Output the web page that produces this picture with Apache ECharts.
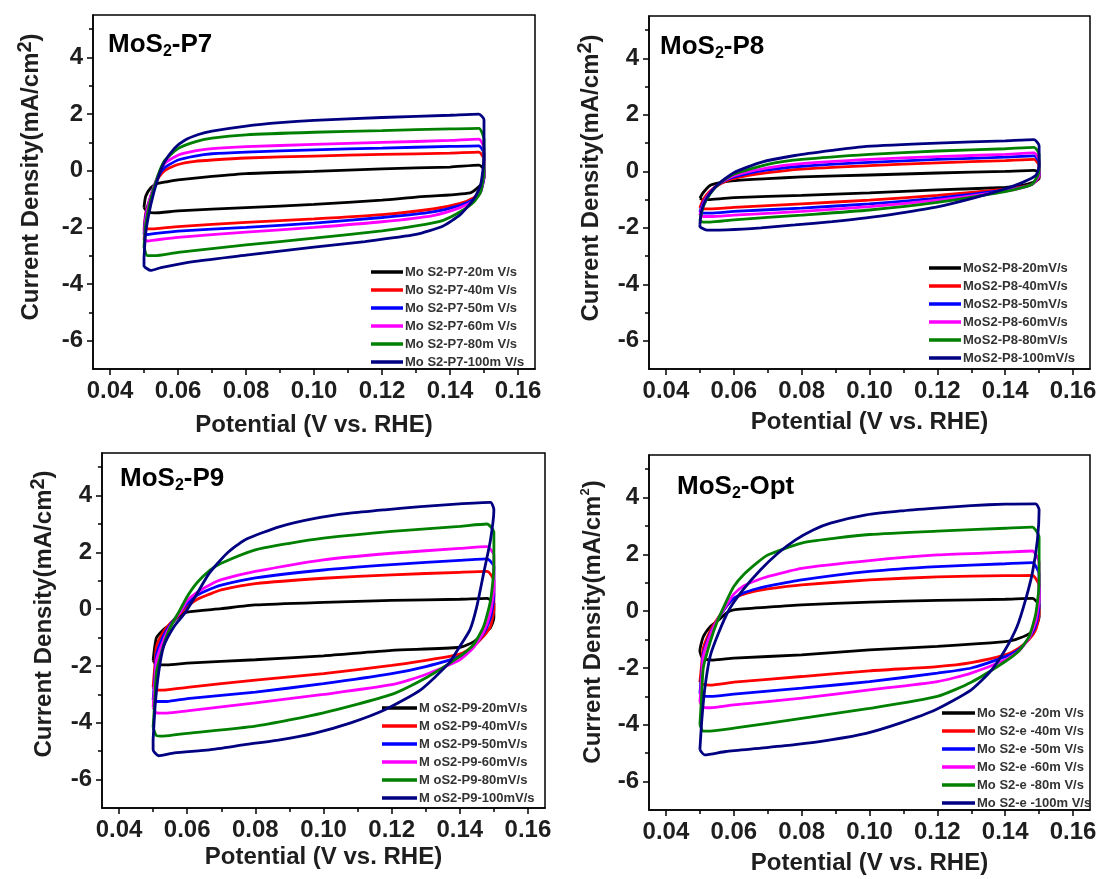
<!DOCTYPE html>
<html>
<head>
<meta charset="utf-8">
<script src="https://cdn.jsdelivr.net/npm/echarts@6/dist/echarts.min.js"></script>
<style>
  html, body { margin: 0; padding: 0; background: #ffffff; }
  #chart { width: 1101px; height: 879px; }
</style>
</head>
<body>
<div id="chart"></div>
<script>
// Cyclic voltammograms of four MoS2 electrodes at six scan rates.
// Each loop is [potential (V vs. RHE), current density (mA/cm2)].

const scanRates = ['20', '40', '50', '60', '80', '100'];
const xTickValues = [0.04, 0.06, 0.08, 0.10, 0.12, 0.14, 0.16];
const xMinorValues = [0.05, 0.07, 0.09, 0.11, 0.13, 0.15];
const yTickValues = [-6, -4, -2, 0, 2, 4];
const yMinorValues = [-5, -3, -1, 1, 3, 5];

// ---- MoS2-P7 ----
const p7_20 = [[0.050,-1.30],[0.0505,-0.90],[0.052,-0.60],[0.054,-0.45],[0.057,-0.38],[0.060,-0.32],[0.070,-0.20],[0.080,-0.10],[0.100,-0.02],[0.120,0.07],[0.140,0.13],[0.1485,0.20],[0.150,0.05],[0.150,-0.25],[0.149,-0.50],[0.146,-0.78],[0.130,-0.93],[0.120,-1.04],[0.100,-1.19],[0.080,-1.30],[0.060,-1.42],[0.053,-1.49],[0.051,-1.45],[0.050,-1.30]];
const p7_40 = [[0.050,-2.10],[0.0505,-1.50],[0.052,-0.90],[0.054,-0.30],[0.056,0.00],[0.060,0.22],[0.065,0.33],[0.070,0.38],[0.080,0.45],[0.100,0.52],[0.120,0.58],[0.140,0.62],[0.1485,0.66],[0.150,0.40],[0.150,-0.20],[0.149,-0.70],[0.147,-0.95],[0.143,-1.15],[0.135,-1.35],[0.120,-1.55],[0.100,-1.70],[0.080,-1.82],[0.060,-1.97],[0.053,-2.05],[0.051,-2.05],[0.050,-2.10]];
const p7_50 = [[0.050,-2.25],[0.0505,-1.60],[0.052,-0.90],[0.054,-0.25],[0.056,0.10],[0.060,0.38],[0.065,0.52],[0.070,0.60],[0.080,0.66],[0.100,0.74],[0.120,0.80],[0.140,0.86],[0.1485,0.88],[0.150,0.60],[0.150,-0.20],[0.149,-0.75],[0.147,-1.00],[0.143,-1.22],[0.135,-1.45],[0.120,-1.65],[0.100,-1.85],[0.080,-2.00],[0.060,-2.13],[0.053,-2.22],[0.051,-2.25],[0.050,-2.25]];
const p7_60 = [[0.050,-2.45],[0.0505,-1.70],[0.052,-0.90],[0.054,-0.20],[0.056,0.25],[0.060,0.55],[0.065,0.70],[0.070,0.78],[0.080,0.85],[0.100,0.93],[0.120,1.00],[0.140,1.07],[0.1485,1.12],[0.150,0.80],[0.150,-0.10],[0.149,-0.75],[0.147,-1.05],[0.143,-1.30],[0.135,-1.58],[0.120,-1.80],[0.100,-2.00],[0.080,-2.17],[0.060,-2.35],[0.053,-2.45],[0.051,-2.48],[0.050,-2.45]];
const p7_80 = [[0.050,-2.70],[0.0505,-1.90],[0.052,-1.00],[0.054,-0.20],[0.056,0.35],[0.060,0.78],[0.065,1.02],[0.070,1.15],[0.080,1.27],[0.100,1.36],[0.120,1.42],[0.140,1.48],[0.1485,1.50],[0.150,1.10],[0.150,0.00],[0.149,-0.75],[0.147,-1.10],[0.143,-1.45],[0.138,-1.75],[0.130,-1.95],[0.120,-2.12],[0.100,-2.38],[0.080,-2.62],[0.060,-2.88],[0.053,-3.00],[0.051,-3.00],[0.050,-2.70]];
const p7_100 = [[0.050,-3.10],[0.0505,-2.20],[0.052,-1.20],[0.054,-0.30],[0.056,0.30],[0.059,0.80],[0.062,1.08],[0.066,1.28],[0.070,1.40],[0.080,1.58],[0.090,1.70],[0.100,1.78],[0.120,1.88],[0.140,1.96],[0.1485,2.00],[0.150,1.80],[0.150,0.50],[0.149,-0.50],[0.147,-1.00],[0.143,-1.55],[0.138,-1.95],[0.130,-2.25],[0.115,-2.50],[0.100,-2.70],[0.080,-2.98],[0.065,-3.20],[0.055,-3.42],[0.052,-3.52],[0.050,-3.35],[0.050,-3.10]];

// ---- MoS2-P8 ----
const p8_20 = [[0.050,-0.95],[0.051,-0.75],[0.053,-0.50],[0.056,-0.40],[0.060,-0.33],[0.070,-0.26],[0.080,-0.20],[0.100,-0.13],[0.120,-0.06],[0.140,0.00],[0.1485,0.03],[0.150,-0.05],[0.150,-0.25],[0.148,-0.40],[0.145,-0.50],[0.140,-0.57],[0.120,-0.66],[0.100,-0.76],[0.080,-0.85],[0.060,-0.93],[0.053,-1.00],[0.051,-1.00],[0.050,-0.95]];
const p8_40 = [[0.050,-1.30],[0.051,-1.00],[0.053,-0.70],[0.056,-0.45],[0.060,-0.25],[0.070,-0.05],[0.080,0.08],[0.100,0.20],[0.120,0.30],[0.140,0.38],[0.1485,0.42],[0.150,0.20],[0.150,-0.20],[0.148,-0.45],[0.145,-0.55],[0.140,-0.63],[0.120,-0.85],[0.100,-1.02],[0.080,-1.15],[0.060,-1.28],[0.053,-1.33],[0.051,-1.33],[0.050,-1.30]];
const p8_50 = [[0.050,-1.45],[0.051,-1.10],[0.053,-0.75],[0.056,-0.42],[0.060,-0.20],[0.070,0.05],[0.080,0.18],[0.100,0.32],[0.120,0.42],[0.140,0.50],[0.1485,0.55],[0.150,0.30],[0.150,-0.15],[0.148,-0.45],[0.145,-0.57],[0.140,-0.67],[0.120,-0.95],[0.100,-1.15],[0.080,-1.30],[0.060,-1.42],[0.053,-1.48],[0.051,-1.48],[0.050,-1.45]];
const p8_60 = [[0.050,-1.55],[0.051,-1.15],[0.053,-0.75],[0.056,-0.40],[0.060,-0.15],[0.070,0.12],[0.080,0.27],[0.100,0.42],[0.120,0.52],[0.140,0.60],[0.1485,0.65],[0.150,0.40],[0.150,-0.10],[0.148,-0.45],[0.145,-0.58],[0.140,-0.70],[0.120,-1.02],[0.100,-1.25],[0.080,-1.42],[0.060,-1.55],[0.053,-1.60],[0.051,-1.60],[0.050,-1.55]];
const p8_80 = [[0.050,-1.75],[0.051,-1.25],[0.053,-0.80],[0.056,-0.40],[0.060,-0.10],[0.070,0.25],[0.080,0.42],[0.100,0.60],[0.120,0.72],[0.140,0.80],[0.1485,0.85],[0.150,0.60],[0.150,0.00],[0.148,-0.45],[0.145,-0.58],[0.140,-0.72],[0.120,-1.10],[0.100,-1.37],[0.080,-1.55],[0.060,-1.72],[0.053,-1.80],[0.051,-1.80],[0.050,-1.75]];
const p8_100 = [[0.050,-1.90],[0.0505,-1.40],[0.052,-0.95],[0.055,-0.50],[0.060,-0.05],[0.068,0.32],[0.078,0.56],[0.089,0.74],[0.099,0.88],[0.120,1.00],[0.140,1.08],[0.1485,1.12],[0.150,0.90],[0.150,0.20],[0.149,-0.15],[0.145,-0.40],[0.140,-0.62],[0.130,-0.97],[0.120,-1.26],[0.109,-1.48],[0.099,-1.65],[0.089,-1.78],[0.078,-1.90],[0.068,-2.00],[0.058,-2.07],[0.052,-2.08],[0.050,-1.95],[0.050,-1.90]];

// ---- MoS2-P9 ----
const p9_20 = [[0.050,-1.80],[0.0505,-1.30],[0.051,-1.00],[0.053,-0.72],[0.055,-0.55],[0.058,-0.20],[0.060,-0.10],[0.070,0.02],[0.080,0.15],[0.100,0.24],[0.120,0.31],[0.140,0.35],[0.148,0.38],[0.150,0.20],[0.150,-0.30],[0.149,-0.65],[0.147,-0.85],[0.144,-1.15],[0.140,-1.34],[0.120,-1.45],[0.100,-1.64],[0.080,-1.78],[0.060,-1.90],[0.054,-1.96],[0.051,-1.95],[0.050,-1.80]];
const p9_40 = [[0.050,-2.75],[0.0505,-2.00],[0.051,-1.30],[0.053,-0.80],[0.055,-0.50],[0.058,-0.15],[0.060,0.10],[0.063,0.35],[0.067,0.55],[0.070,0.68],[0.080,0.90],[0.100,1.09],[0.120,1.21],[0.140,1.30],[0.148,1.33],[0.150,1.00],[0.150,0.00],[0.149,-0.60],[0.147,-0.95],[0.144,-1.30],[0.140,-1.58],[0.130,-1.80],[0.120,-1.98],[0.100,-2.27],[0.080,-2.50],[0.060,-2.75],[0.054,-2.84],[0.051,-2.85],[0.050,-2.75]];
const p9_50 = [[0.050,-3.20],[0.0505,-2.40],[0.051,-1.60],[0.053,-0.95],[0.055,-0.55],[0.058,-0.10],[0.060,0.20],[0.063,0.50],[0.067,0.72],[0.070,0.85],[0.080,1.10],[0.100,1.38],[0.120,1.57],[0.140,1.72],[0.148,1.77],[0.150,1.50],[0.150,0.50],[0.149,-0.30],[0.147,-0.85],[0.144,-1.30],[0.140,-1.66],[0.130,-2.02],[0.120,-2.27],[0.100,-2.62],[0.080,-2.92],[0.060,-3.15],[0.054,-3.25],[0.051,-3.25],[0.050,-3.20]];
const p9_60 = [[0.050,-3.45],[0.0505,-2.60],[0.051,-1.80],[0.053,-1.10],[0.055,-0.60],[0.058,-0.10],[0.060,0.30],[0.063,0.60],[0.067,0.88],[0.070,1.04],[0.080,1.33],[0.100,1.74],[0.120,1.97],[0.140,2.14],[0.148,2.20],[0.150,1.90],[0.150,0.80],[0.149,-0.10],[0.147,-0.80],[0.144,-1.35],[0.140,-1.78],[0.130,-2.30],[0.120,-2.66],[0.100,-3.00],[0.080,-3.30],[0.060,-3.58],[0.054,-3.66],[0.051,-3.65],[0.050,-3.45]];
const p9_80 = [[0.050,-4.15],[0.0505,-3.20],[0.051,-2.20],[0.053,-1.30],[0.055,-0.65],[0.058,0.00],[0.060,0.45],[0.063,0.95],[0.067,1.40],[0.070,1.62],[0.080,2.09],[0.090,2.32],[0.100,2.50],[0.120,2.74],[0.140,2.92],[0.148,3.00],[0.150,2.70],[0.150,1.50],[0.149,0.30],[0.147,-0.60],[0.144,-1.25],[0.140,-1.66],[0.130,-2.42],[0.120,-3.00],[0.100,-3.65],[0.080,-4.12],[0.060,-4.37],[0.053,-4.47],[0.051,-4.45],[0.050,-4.15]];
const p9_100 = [[0.050,-4.60],[0.0506,-3.40],[0.0516,-2.25],[0.0531,-1.31],[0.0562,-0.60],[0.0593,-0.14],[0.0624,0.45],[0.0665,1.27],[0.0717,1.97],[0.0769,2.44],[0.0872,2.91],[0.0975,3.20],[0.1078,3.38],[0.118,3.50],[0.1285,3.61],[0.1388,3.70],[0.149,3.76],[0.150,3.50],[0.149,2.44],[0.147,1.27],[0.145,0.10],[0.143,-0.72],[0.140,-1.31],[0.1368,-1.90],[0.1285,-2.84],[0.118,-3.54],[0.108,-4.00],[0.0975,-4.36],[0.0872,-4.60],[0.0769,-4.77],[0.0665,-4.95],[0.0562,-5.06],[0.0516,-5.16],[0.050,-4.95],[0.050,-4.60]];

// ---- MoS2-Opt ----
const opt_20 = [[0.0505,-1.60],[0.050,-1.40],[0.051,-0.90],[0.053,-0.55],[0.055,-0.36],[0.058,-0.05],[0.060,0.05],[0.070,0.14],[0.080,0.22],[0.100,0.32],[0.120,0.38],[0.140,0.42],[0.148,0.45],[0.150,0.20],[0.150,-0.20],[0.149,-0.55],[0.147,-0.80],[0.143,-1.00],[0.140,-1.07],[0.120,-1.24],[0.100,-1.36],[0.080,-1.54],[0.060,-1.65],[0.054,-1.72],[0.051,-1.68],[0.0505,-1.60]];
const opt_40 = [[0.050,-2.50],[0.0505,-1.90],[0.051,-1.30],[0.053,-0.70],[0.055,-0.30],[0.058,0.20],[0.060,0.45],[0.063,0.60],[0.067,0.72],[0.070,0.79],[0.080,0.93],[0.100,1.10],[0.120,1.21],[0.140,1.25],[0.148,1.26],[0.150,0.90],[0.150,-0.10],[0.149,-0.65],[0.147,-1.00],[0.144,-1.30],[0.140,-1.54],[0.130,-1.81],[0.120,-1.95],[0.100,-2.10],[0.080,-2.30],[0.060,-2.50],[0.053,-2.60],[0.051,-2.58],[0.050,-2.50]];
const opt_50 = [[0.050,-2.90],[0.0505,-2.20],[0.051,-1.50],[0.053,-0.80],[0.055,-0.35],[0.058,0.20],[0.060,0.45],[0.063,0.65],[0.067,0.80],[0.070,0.88],[0.080,1.10],[0.100,1.40],[0.120,1.57],[0.140,1.67],[0.148,1.71],[0.150,1.30],[0.150,0.20],[0.149,-0.50],[0.147,-0.95],[0.144,-1.35],[0.140,-1.60],[0.130,-2.00],[0.120,-2.18],[0.100,-2.48],[0.080,-2.71],[0.060,-2.92],[0.053,-3.00],[0.051,-2.98],[0.050,-2.90]];
const opt_60 = [[0.050,-3.20],[0.0505,-2.40],[0.051,-1.60],[0.053,-0.85],[0.055,-0.35],[0.058,0.25],[0.060,0.60],[0.063,0.90],[0.067,1.10],[0.070,1.22],[0.080,1.51],[0.100,1.78],[0.120,1.98],[0.140,2.08],[0.148,2.12],[0.150,1.70],[0.150,0.50],[0.149,-0.35],[0.147,-0.95],[0.144,-1.40],[0.140,-1.71],[0.130,-2.18],[0.120,-2.48],[0.100,-2.77],[0.080,-3.06],[0.060,-3.30],[0.053,-3.40],[0.051,-3.38],[0.050,-3.20]];
const opt_80 = [[0.050,-4.00],[0.0505,-3.00],[0.051,-2.00],[0.053,-1.10],[0.055,-0.40],[0.058,0.40],[0.060,0.87],[0.063,1.30],[0.067,1.72],[0.070,1.98],[0.080,2.40],[0.090,2.57],[0.100,2.70],[0.120,2.82],[0.140,2.92],[0.148,2.96],[0.150,2.60],[0.150,1.00],[0.149,-0.10],[0.147,-0.90],[0.144,-1.40],[0.140,-1.77],[0.130,-2.50],[0.120,-3.00],[0.100,-3.42],[0.080,-3.77],[0.060,-4.12],[0.053,-4.22],[0.051,-4.22],[0.050,-4.00]];
const opt_100 = [[0.050,-4.88],[0.0505,-3.94],[0.0514,-2.77],[0.053,-1.60],[0.0555,-0.77],[0.0586,0.05],[0.0627,0.75],[0.0679,1.46],[0.073,2.04],[0.0782,2.51],[0.0834,2.86],[0.0885,3.10],[0.099,3.39],[0.1092,3.53],[0.1195,3.63],[0.130,3.72],[0.140,3.77],[0.149,3.78],[0.150,3.57],[0.1495,2.51],[0.148,1.34],[0.146,0.40],[0.1435,-0.54],[0.140,-1.36],[0.136,-2.07],[0.130,-2.77],[0.1195,-3.47],[0.109,-3.94],[0.099,-4.30],[0.0885,-4.53],[0.078,-4.70],[0.068,-4.82],[0.0576,-4.94],[0.0514,-5.06],[0.050,-4.88]];

// line colours, one per scan rate
const palette = ['#000000', '#ff0000', '#0000ff', '#ff00ff', '#008000', '#000080'];
const FONT = '"Liberation Sans", Arial, sans-serif';

const panels = [
  {
    grid: { left: 93, top: 15, width: 442, height: 354 },
    title: ['MoS', '2', '-P7'], titleAt: [108, 45],
    yNameAt: [31, 177], bigSup: true, xNameGap: 44,
    legend: { left: 371, top: 263, itemWidth: 32 },
    label: r => 'Mo S2-P7-' + r + 'm V/s',
    loops: [p7_20, p7_40, p7_50, p7_60, p7_80, p7_100]
  },
  {
    grid: { left: 649, top: 16, width: 441, height: 353 },
    title: ['MoS', '2', '-P8'], titleAt: [660, 47],
    yNameAt: [591, 178], bigSup: true, xNameGap: 41,
    legend: { left: 929, top: 259, itemWidth: 32 },
    label: r => 'MoS2-P8-' + r + 'mV/s',
    loops: [p8_20, p8_40, p8_50, p8_60, p8_80, p8_100]
  },
  {
    grid: { left: 102, top: 453, width: 443, height: 355 },
    title: ['MoS', '2', '-P9'], titleAt: [120, 479],
    yNameAt: [44, 614], bigSup: true, xNameGap: 37,
    legend: { left: 382, top: 699, itemWidth: 35 },
    label: r => 'M oS2-P9-' + r + 'mV/s',
    loops: [p9_20, p9_40, p9_50, p9_60, p9_80, p9_100]
  },
  {
    grid: { left: 649, top: 455, width: 441, height: 355 },
    title: ['MoS', '2', '-Opt'], titleAt: [677, 487],
    yNameAt: [593, 622], bigSup: false, xNameGap: 41,
    legend: { left: 942, top: 704, itemWidth: 33 },
    label: r => 'Mo S2-e -' + r + 'm V/s',
    loops: [opt_20, opt_40, opt_50, opt_60, opt_80, opt_100]
  }
];

const grids = [], xAxes = [], yAxes = [], series = [], legends = [], graphics = [];

panels.forEach((p, i) => {
  grids.push(Object.assign({
    show: true, borderColor: '#000', borderWidth: 1.5,
    backgroundColor: 'transparent', containLabel: false, outerBoundsMode: 'none'
  }, p.grid));

  const axisLine = { show: true, onZero: false, lineStyle: { color: '#000', width: 1.5 } };
  const labelStyle = { fontSize: 24, fontWeight: 'bold', color: '#1e1e1e', fontFamily: FONT };

  // main x axis with labelled ticks
  xAxes.push({
    type: 'value', gridIndex: i, position: 'bottom', min: 0.035, max: 0.165,
    name: 'Potential (V vs. RHE)', nameLocation: 'middle', nameGap: p.xNameGap,
    nameTextStyle: { fontSize: 24, fontWeight: 'bold', color: '#1e1e1e', fontFamily: FONT },
    axisLine: axisLine,
    axisTick: { show: true, inside: false, length: 6, customValues: xTickValues, lineStyle: { color: '#000', width: 1.5 } },
    axisLabel: Object.assign({ customValues: xTickValues, margin: 10, formatter: v => v.toFixed(2) }, labelStyle),
    splitLine: { show: false }
  });
  // minor x ticks
  xAxes.push({
    type: 'value', gridIndex: i, position: 'bottom', min: 0.035, max: 0.165,
    axisLine: { show: false, onZero: false },
    axisTick: { show: true, inside: false, length: 4, customValues: xMinorValues, lineStyle: { color: '#000', width: 1.5 } },
    axisLabel: { show: false }, splitLine: { show: false }
  });
  // main y axis
  yAxes.push({
    type: 'value', gridIndex: i, position: 'left', min: -7, max: 5.5,
    axisLine: axisLine,
    axisTick: { show: true, inside: false, length: 6, customValues: yTickValues, lineStyle: { color: '#000', width: 1.5 } },
    axisLabel: Object.assign({ customValues: yTickValues, margin: 10, formatter: v => String(v) }, labelStyle),
    splitLine: { show: false }
  });
  // minor y ticks
  yAxes.push({
    type: 'value', gridIndex: i, position: 'left', min: -7, max: 5.5,
    axisLine: { show: false, onZero: false },
    axisTick: { show: true, inside: false, length: 4, customValues: yMinorValues, lineStyle: { color: '#000', width: 1.5 } },
    axisLabel: { show: false }, splitLine: { show: false }
  });

  const names = scanRates.map(p.label);
  p.loops.forEach((loop, k) => {
    series.push({
      type: 'line', name: names[k], xAxisIndex: 2 * i, yAxisIndex: 2 * i,
      data: loop, symbol: 'none', smooth: 0.2, smoothMonotone: 'none',
      lineStyle: { color: palette[k], width: 2.8 },
      itemStyle: { color: palette[k] },
      z: 2 + k
    });
  });

  // legend keys drawn as short thick bars
  legends.push({
    orient: 'vertical', left: p.legend.left, top: p.legend.top, padding: 0,
    icon: 'rect', itemWidth: p.legend.itemWidth, itemHeight: 3.5, itemGap: 0,
    data: names, selectedMode: false,
    textStyle: { fontSize: 13, fontWeight: 'bold', color: '#333', fontFamily: FONT, lineHeight: 18, padding: [0, 0, 0, -3] }
  });

  // panel title, e.g. MoS2-P7 with subscript 2
  graphics.push({
    type: 'text', x: p.titleAt[0], y: p.titleAt[1], z: 100,
    style: {
      text: '{b|' + p.title[0] + '}{s|' + p.title[1] + '}{b|' + p.title[2] + '}',
      verticalAlign: 'middle', align: 'left',
      rich: {
        b: { fontSize: 26, fontWeight: 'bold', fill: '#000', fontFamily: FONT, lineHeight: 30 },
        s: { fontSize: 16, fontWeight: 'bold', fill: '#000', fontFamily: FONT, lineHeight: 30, padding: [14, 0, 0, 0] }
      }
    }
  });

  // rotated y-axis title with superscript 2
  graphics.push({
    type: 'text', x: p.yNameAt[0], y: p.yNameAt[1], rotation: Math.PI / 2, z: 100,
    style: {
      text: '{a|Current Density(mA/cm}{u|2}{a|)}',
      align: 'center', verticalAlign: 'middle',
      rich: {
        a: { fontSize: 24, fontWeight: 'bold', fill: '#1e1e1e', fontFamily: FONT, lineHeight: 30 },
        u: p.bigSup
          ? { fontSize: 20, fontWeight: 'bold', fill: '#1e1e1e', fontFamily: FONT, lineHeight: 30, padding: [0, 0, 12, 0] }
          : { fontSize: 13, fontWeight: 'bold', fill: '#1e1e1e', fontFamily: FONT, lineHeight: 30, padding: [0, 0, 16, 0] }
      }
    }
  });
});

const chart = echarts.init(document.getElementById('chart'), null, { renderer: 'canvas' });
chart.setOption({
  animation: false,
  backgroundColor: '#ffffff',
  grid: grids,
  xAxis: xAxes,
  yAxis: yAxes,
  legend: legends,
  series: series,
  graphic: graphics
});
</script>
</body>
</html>
